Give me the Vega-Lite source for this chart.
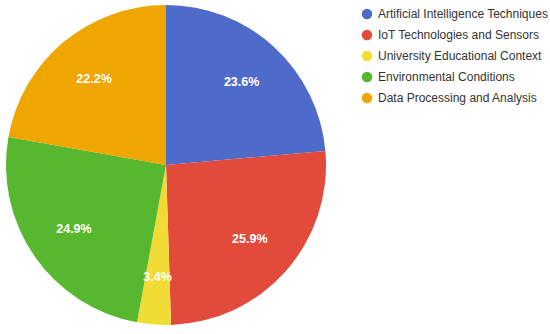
{
  "$schema": "https://vega.github.io/schema/vega-lite/v6.json",
  "width": 332,
  "height": 330,
  "padding": {"left": 0, "top": 0, "right": 218, "bottom": 4},
  "autosize": {"type": "none"},
  "background": "white",
  "data": {"values": [
    {"category": "Artificial Intelligence Techniques", "value": 23.6, "label": "23.6%", "order": 1},
    {"category": "IoT Technologies and Sensors", "value": 25.9, "label": "25.9%", "order": 2},
    {"category": "University Educational Context", "value": 3.4, "label": "3.4%", "order": 3},
    {"category": "Environmental Conditions", "value": 24.9, "label": "24.9%", "order": 4},
    {"category": "Data Processing and Analysis", "value": 22.2, "label": "22.2%", "order": 5}
  ]},
  "encoding": {
    "theta": {"field": "value", "type": "quantitative", "stack": true},
    "order": {"field": "order", "type": "quantitative"},
    "color": {
      "field": "category", "type": "nominal",
      "scale": {
        "domain": ["Artificial Intelligence Techniques", "IoT Technologies and Sensors", "University Educational Context", "Environmental Conditions", "Data Processing and Analysis"],
        "range": ["#4F6BC9", "#E24A3C", "#F1DC36", "#57B72E", "#F0A600"]
      },
      "legend": {
        "title": null,
        "orient": "none",
        "legendX": 361,
        "legendY": 8,
        "symbolType": "circle",
        "symbolSize": 110,
        "symbolStrokeWidth": 0,
        "labelFont": "Liberation Sans",
        "labelFontSize": 12,
        "labelColor": "#333333",
        "labelOffset": 5,
        "rowPadding": 9,
        "labelLimit": 300
      }
    }
  },
  "layer": [
    {"mark": {"type": "arc", "outerRadius": 160}},
    {
      "mark": {"type": "text", "radius": 112, "font": "Liberation Sans", "fontSize": 12.5, "fontWeight": "bold", "fill": "white"},
      "encoding": {"text": {"field": "label", "type": "nominal"}, "color": {"value": "white"}}
    }
  ],
  "config": {"view": {"stroke": null}}
}
